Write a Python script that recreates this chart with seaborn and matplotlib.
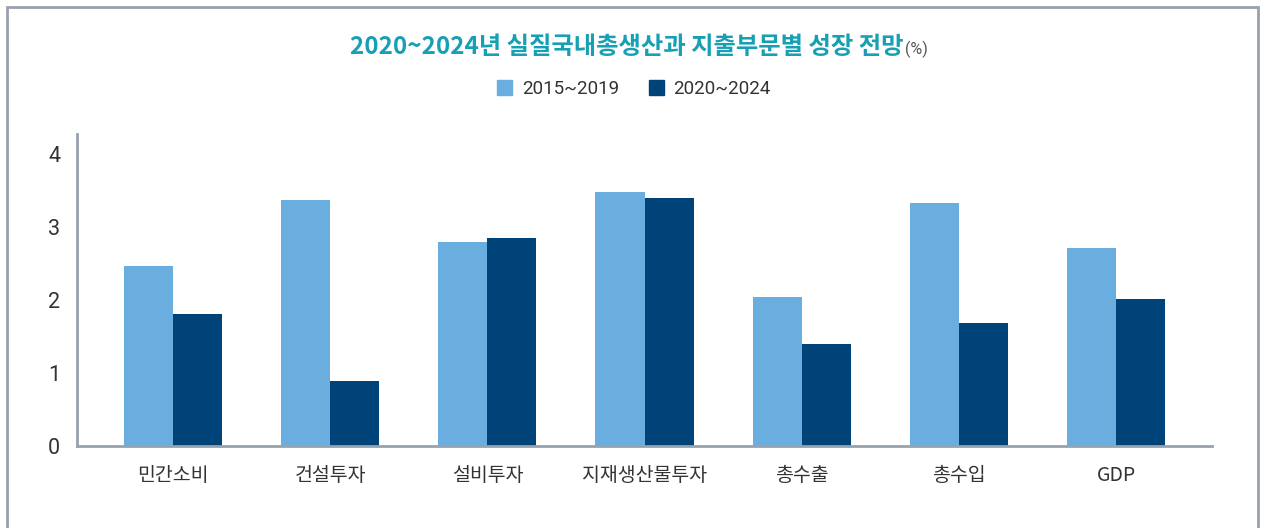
import matplotlib
matplotlib.use("Agg")
import matplotlib.pyplot as plt
import matplotlib.patches as mpatches
import pandas as pd
import seaborn as sns

categories = ["민간소비", "건설투자", "설비투자", "지재생산물투자", "총수출", "총수입", "GDP"]
periods = ["2015~2019", "2020~2024"]
vals_2015_2019 = [2.47, 3.36, 2.79, 3.48, 2.04, 3.32, 2.71]
vals_2020_2024 = [1.81, 0.89, 2.85, 3.40, 1.40, 1.68, 2.01]

colors = ["#6aaddf", "#004379"]
spine_col = "#98a2ae"

df = pd.DataFrame({
    "cat": categories * 2,
    "period": [periods[0]] * len(categories) + [periods[1]] * len(categories),
    "val": vals_2015_2019 + vals_2020_2024,
})

sns.set_style("white")
plt.rcParams["font.family"] = ["Roboto", "Noto Sans CJK KR", "DejaVu Sans"]

fig = plt.figure(figsize=(12.64, 5.28), dpi=100)
ax = fig.add_axes([77 / 1264, 1 - 446 / 528, (1212 - 77) / 1264, (446 - 134) / 528])

sns.barplot(data=df, x="cat", y="val", hue="period", palette=colors,
            width=0.625, saturation=1, ax=ax, legend=False, linewidth=0)

ax.set_xlim(-0.61, 6.61)
ax.set_ylim(0, 4.27)
ax.set_yticks([0, 1, 2, 3, 4])
ax.set_xlabel("")
ax.set_ylabel("")
for s in ["top", "right"]:
    ax.spines[s].set_visible(False)
for s in ["left", "bottom"]:
    ax.spines[s].set_color(spine_col)
    ax.spines[s].set_linewidth(2)
ax.tick_params(length=0, colors="#333333")
ax.tick_params(axis="y", labelsize=15.5, pad=12)
ax.tick_params(axis="x", labelsize=14, pad=14)
for lab in ax.get_xticklabels():
    lab.set_family(["Noto Sans CJK KR", "DejaVu Sans"])

# title
fig.text(903 / 1264, 1 - 47 / 528, "2020~2024년 실질국내총생산과 지출부문별 성장 전망",
         ha="right", va="center", fontsize=17.5, fontweight="bold", color="#17a0b3",
         family=["Noto Sans CJK KR", "DejaVu Sans"])
fig.text(905 / 1264, 1 - 49 / 528, "(%)", ha="left", va="center", fontsize=11.5,
         color="#555555", family=["Roboto", "DejaVu Sans"])

# legend
handles = [mpatches.Patch(color=c, label=p) for c, p in zip(colors, periods)]
fig.legend(handles=handles, loc="center", bbox_to_anchor=(634 / 1264, 1 - 89 / 528),
           ncol=2, frameon=False, fontsize=13.5, handlelength=0.8, handleheight=0.8,
           handletextpad=0.5, columnspacing=1.6, labelcolor="#333333")

# outer frame
frame = mpatches.Rectangle((7 / 1264, -0.05), (1258 - 7) / 1264, 1 - 7 / 528 + 0.05,
                           transform=fig.transFigure, fill=False,
                           edgecolor=spine_col, linewidth=2)
fig.patches.append(frame)

fig.savefig("out.png", dpi=100)
